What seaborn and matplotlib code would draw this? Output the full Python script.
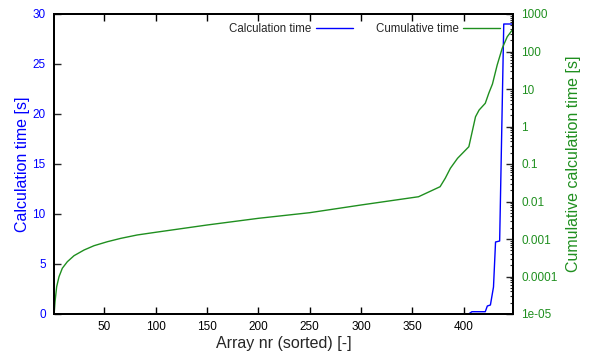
import numpy as np
import pandas as pd
import seaborn as sns
import matplotlib
matplotlib.use('Agg')
import matplotlib.pyplot as plt
from matplotlib.ticker import FixedLocator, FuncFormatter, LogLocator, NullFormatter

# Calculation time per array (piecewise)
calc_x = [1, 405, 408, 421, 423, 426, 429, 431, 435, 439, 448]
calc_y = [0, 0.02, 0.23, 0.23, 0.8, 0.9, 2.7, 7.2, 7.3, 29, 29]

# Cumulative calculation time [s]
cum_x = [1, 1.3, 2, 3.6, 5.9, 9.1, 14, 20.5, 30.3, 40, 53, 66, 82, 100, 150,
         200, 250, 300, 356, 377, 382, 387, 394, 405, 411.5, 415, 421, 424.5,
         428, 432.6, 437.5, 442.4, 447.3]
cum_y = [1e-5, 1.15e-5, 2.13e-5, 5.35e-5, 9.9e-5, 1.66e-4, 2.48e-4, 3.59e-4,
         5.09e-4, 6.63e-4, 8.47e-4, 1.04e-3, 1.28e-3, 1.51e-3, 2.36e-3,
         3.56e-3, 5.03e-3, 8.07e-3, 0.0134, 0.0248, 0.0416, 0.0768, 0.142,
         0.289, 1.82, 2.75, 4.16, 7.82, 13.6, 43.6, 122, 248, 374]

x_ticks = [50, 100, 150, 200, 250, 300, 350, 400]
y_ticks = [0, 5, 10, 15, 20, 25, 30]
y2_ticks = [1e-5, 1e-4, 1e-3, 1e-2, 1e-1, 1, 10, 100, 1000]

blue = '#0000ff'
green = '#1f8f1f'

sns.set_style('ticks')
plt.rcParams['font.family'] = ['Liberation Sans', 'DejaVu Sans']

calc = pd.DataFrame({'x': calc_x, 'y': calc_y})
cum = pd.DataFrame({'x': cum_x, 'y': cum_y})

fig = plt.figure(figsize=(5.9, 3.6), dpi=100)
ax = fig.add_axes([54 / 590, 1 - 314 / 360, (513 - 54) / 590, 300 / 360])
ax2 = ax.twinx()

sns.lineplot(data=calc, x='x', y='y', ax=ax, color=blue, lw=1.0,
             label='Calculation time', legend=False)
sns.lineplot(data=cum, x='x', y='y', ax=ax2, color=green, lw=1.0,
             label='Cumulative time', legend=False)

ax.set_xlim(1, 448)
ax.set_ylim(0, 30)
ax2.set_yscale('log')
ax2.set_ylim(1e-5, 1000)

ax.xaxis.set_major_locator(FixedLocator(x_ticks))
ax.yaxis.set_major_locator(FixedLocator(y_ticks))
ax2.yaxis.set_major_locator(FixedLocator(y2_ticks))
ax2.yaxis.set_minor_locator(LogLocator(base=10, subs=np.arange(2, 10), numticks=20))
ax2.yaxis.set_minor_formatter(NullFormatter())
ax2.yaxis.set_major_formatter(FuncFormatter(lambda v, p: '%g' % v))

ax.tick_params(axis='x', direction='in', top=True, length=5, width=1,
               labelsize=8.5, pad=5, colors='black')
ax.tick_params(axis='y', direction='in', right=False, length=5, width=1,
               labelsize=8.5, labelcolor=blue, pad=6)
ax2.tick_params(axis='y', which='major', direction='in', length=5, width=1,
                labelsize=8.5, labelcolor=green, pad=6)
ax2.tick_params(axis='y', which='minor', direction='in', length=2.5, width=0.8)

for a in (ax, ax2):
    for s in a.spines.values():
        s.set_visible(True)
        s.set_linewidth(1.4)
        s.set_color('black')

ax.set_xlabel('Array nr (sorted) [-]', fontsize=11.5, labelpad=2)
ax.set_ylabel('Calculation time [s]', fontsize=11.5, color=blue, labelpad=2)
ax2.set_ylabel('Cumulative calculation time [s]', fontsize=11.5, color=green,
               labelpad=6)

h1, l1 = ax.get_legend_handles_labels()
h2, l2 = ax2.get_legend_handles_labels()
leg = ax2.legend(h1 + h2, l1 + l2, loc='upper right', ncol=2, frameon=False,
                 markerfirst=False, fontsize=8.3, handlelength=3.2,
                 columnspacing=2.0, handletextpad=0.4,
                 borderaxespad=0.1, bbox_to_anchor=(0.985, 0.99))

fig.savefig('out.png', dpi=100)
